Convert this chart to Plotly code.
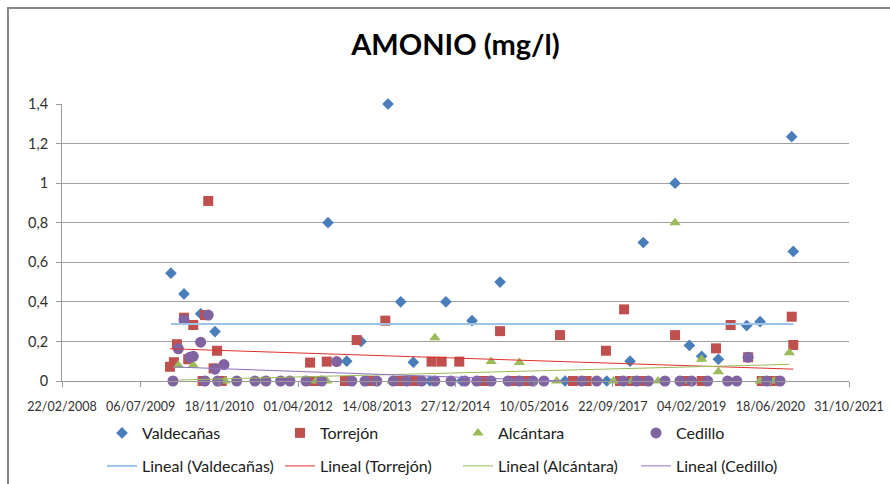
import plotly.graph_objects as go

# ---------------- data ----------------
val_dates = ["2010-01-14", "2010-04-07", "2010-07-22", "2010-10-21", "2012-10-08",
             "2013-02-04", "2013-05-06", "2013-10-24", "2014-01-13", "2014-04-03",
             "2014-07-18", "2014-10-27", "2015-02-04", "2015-04-11", "2015-10-06",
             "2016-11-22", "2017-08-14", "2018-01-09", "2018-04-03", "2018-10-22",
             "2019-01-21", "2019-04-09", "2019-07-24", "2020-01-20", "2020-04-14",
             "2020-11-01", "2020-11-11"]
val_vals = [0.545, 0.44, 0.34, 0.25, 0.80,
            0.10, 0.20, 1.40, 0.40, 0.095,
            0.0, 0.40, 0.0, 0.305, 0.50,
            0.0, 0.0, 0.10, 0.70, 1.00,
            0.18, 0.125, 0.11, 0.28, 0.30,
            1.235, 0.655]

tor_dates = ["2010-01-08", "2010-02-02", "2010-02-21", "2010-04-07", "2010-05-04",
             "2010-06-05", "2010-08-03", "2010-08-18", "2010-09-08", "2010-10-12",
             "2010-11-03", "2010-12-03", "2012-06-16", "2012-07-11", "2012-09-30",
             "2013-01-24", "2013-04-08", "2013-07-14", "2013-10-07", "2014-01-08",
             "2014-04-13", "2014-07-28", "2014-09-30", "2015-01-20", "2015-06-22",
             "2015-10-06", "2015-12-28", "2016-03-24", "2016-10-21", "2017-01-11",
             "2017-04-08", "2017-08-09", "2017-11-06", "2017-12-02", "2018-01-21",
             "2018-03-24", "2018-10-22", "2019-01-04", "2019-04-09", "2019-07-09",
             "2019-10-10", "2020-01-29", "2020-04-25", "2020-07-07", "2020-11-01",
             "2020-11-11"]
tor_vals = [0.072, 0.095, 0.186, 0.32, 0.11,
            0.283, 0.0, 0.333, 0.91, 0.064,
            0.153, 0.0, 0.093, 0.0, 0.098,
            0.0, 0.207, 0.0, 0.305, 0.0,
            0.0, 0.098, 0.098, 0.098, 0.0,
            0.252, 0.0, 0.0, 0.232, 0.0,
            0.0, 0.153, 0.0, 0.362, 0.0,
            0.0, 0.232, 0.0, 0.0, 0.165,
            0.283, 0.12, 0.0, 0.0, 0.325,
            0.182]

alc_dates = ["2010-03-02", "2010-06-05", "2010-12-24", "2011-08-16", "2012-07-24",
             "2012-09-30", "2013-11-19", "2014-08-18", "2015-08-10", "2016-02-06",
             "2016-09-30", "2017-09-25", "2018-01-21", "2018-07-06", "2018-10-22",
             "2019-01-21", "2019-04-09", "2019-07-24", "2019-11-07", "2020-04-14",
             "2020-07-13", "2020-10-17"]
alc_vals = [0.08, 0.08, 0.0, 0.0, 0.0,
            0.0, 0.0, 0.218, 0.098, 0.094,
            0.0, 0.0, 0.0, 0.0, 0.80,
            0.0, 0.11, 0.047, 0.0, 0.0,
            0.0, 0.143]

ced_dates = ["2010-01-27", "2010-03-02", "2010-04-07", "2010-05-15", "2010-06-05",
             "2010-07-22", "2010-08-18", "2010-09-08", "2010-10-21", "2010-11-07",
             "2010-12-17", "2011-03-08", "2011-07-02", "2011-09-10", "2011-12-12",
             "2012-02-09", "2012-05-21", "2012-08-29", "2012-12-02", "2013-03-08",
             "2013-05-31", "2013-08-14", "2013-11-27", "2014-02-20", "2014-05-26",
             "2014-08-18", "2014-11-28", "2015-02-25", "2015-05-11", "2015-08-10",
             "2015-11-26", "2016-02-06", "2016-05-01", "2016-07-11", "2017-03-08",
             "2017-06-11", "2017-11-27", "2018-02-20", "2018-05-05", "2018-08-19",
             "2018-11-22", "2019-02-04", "2019-05-17", "2019-09-21", "2019-11-18",
             "2020-01-29", "2020-05-26", "2020-08-19"]
ced_vals = [0.0, 0.163, 0.31, 0.12, 0.125,
            0.196, 0.0, 0.333, 0.06, 0.0,
            0.083, 0.0, 0.0, 0.0, 0.0,
            0.0, 0.0, 0.0, 0.098, 0.0,
            0.0, 0.0, 0.0, 0.0, 0.0,
            0.0, 0.0, 0.0, 0.0, 0.0,
            0.0, 0.0, 0.0, 0.0, 0.0,
            0.0, 0.0, 0.0, 0.0, 0.0,
            0.0, 0.0, 0.0, 0.0, 0.0,
            0.12, 0.0, 0.0]

# linear trend lines (end values)
val_trend = [0.288, 0.288]
tor_trend = [0.163, 0.060]
alc_trend = [0.005, 0.084]
ced_trend = [0.071, -0.039]

series_names = ["Valdecañas", "Torrejón", "Alcántara", "Cedillo"]
x_ticks_start = "2008-02-22"
x_ticks_end = "2021-10-31"
y_tick_vals = [0, 0.2, 0.4, 0.6, 0.8, 1.0, 1.2, 1.4]

# ---------------- figure ----------------
FONT = "Lato, Carlito, Calibri, sans-serif"
W, H = 890, 484
L, R, T, B = 62, 41, 104, 103

colors = {"Valdecañas": "#4A7EBB", "Torrejón": "#C0504D",
          "Alcántara": "#9BBB59", "Cedillo": "#8064A2"}
trend_colors = {"Valdecañas": "#9DC3E6", "Torrejón": "#E0302C",
                "Alcántara": "#9BBB59", "Cedillo": "#8F6FC0"}
trend_widths = {"Valdecañas": 2, "Torrejón": 1, "Alcántara": 1, "Cedillo": 1}
symbols = {"Valdecañas": "diamond", "Torrejón": "square",
           "Alcántara": "triangle-up", "Cedillo": "circle"}
sizes = {"Valdecañas": 9, "Torrejón": 10, "Alcántara": 10, "Cedillo": 11}

data = {
    "Valdecañas": (val_dates, val_vals, val_trend),
    "Torrejón": (tor_dates, tor_vals, tor_trend),
    "Alcántara": (alc_dates, alc_vals, alc_trend),
    "Cedillo": (ced_dates, ced_vals, ced_trend),
}

fig = go.Figure()
for name in series_names:
    d, v, _ = data[name]
    fig.add_trace(go.Scatter(
        x=d, y=v, mode="markers", name=name, legend="legend",
        marker=dict(symbol=symbols[name], size=sizes[name], color=colors[name],
                    line=dict(width=0)),
        cliponaxis=False))

for name in series_names:
    d, v, tr = data[name]
    fig.add_trace(go.Scatter(
        x=[d[0], d[-1]], y=tr, mode="lines", name=f"Lineal ({name})",
        legend="legend2",
        line=dict(color=trend_colors[name], width=trend_widths[name])))

# chart border (outer frame)
px_to_px = lambda px: (px - L) / (W - L - R)
py_to_py = lambda py: (H - B - py) / (H - T - B)
fig.add_shape(type="rect", xref="paper", yref="paper",
              x0=px_to_px(8), x1=px_to_px(W + 5), y0=py_to_py(H + 5), y1=py_to_py(8),
              line=dict(color="#878787", width=2), fillcolor="rgba(0,0,0,0)", layer="above")

DAY_MS = 86400000
legend_common = dict(orientation="h", xref="container", yref="container",
                     xanchor="left", yanchor="middle",
                     entrywidth=133, entrywidthmode="pixels",
                     font=dict(family=FONT, size=16, color="#202020"),
                     bgcolor="rgba(0,0,0,0)")
fig.update_layout(
    width=W, height=H,
    margin=dict(l=L, r=R, t=T, b=B, autoexpand=False),
    paper_bgcolor="white", plot_bgcolor="white",
    separators=",.",
    font=dict(family=FONT, size=14, color="#404040"),
    title=dict(text="<b>AMONIO (mg/l)</b>", x=0.5, xref="paper", xanchor="center",
               y=1 - 45 / H, yref="container", yanchor="middle",
               font=dict(family=FONT, size=29, color="#000000")),
    xaxis=dict(type="date", range=[x_ticks_start, x_ticks_end],
               tickmode="linear", tick0=x_ticks_start, dtick=500 * DAY_MS,
               tickformat="%d/%m/%Y", tickangle=0, automargin=False,
               showgrid=False, zeroline=False,
               showline=True, linecolor="#9A9A9A", linewidth=1,
               ticks="outside", ticklen=5, tickcolor="#9A9A9A",
               ticklabelstandoff=9,
               tickfont=dict(family=FONT, size=12.5, color="#303030")),
    yaxis=dict(range=[0, 1.4], tickmode="array", tickvals=y_tick_vals,
               ticktext=[("%g" % t).replace(".", ",") for t in y_tick_vals],
               automargin=False,
               showgrid=True, gridcolor="#A0A0A0", gridwidth=1,
               zeroline=False, showline=True, linecolor="#9A9A9A", linewidth=1,
               ticks="outside", ticklen=5, tickcolor="#9A9A9A",
               ticklabelstandoff=5,
               tickfont=dict(family=FONT, size=14.5, color="#303030")),
    legend=dict(x=102 / W, y=1 - 433 / H, **legend_common),
    legend2=dict(x=102 / W, y=1 - 466 / H, **legend_common),
    showlegend=True,
)

fig.write_html("out.html")
